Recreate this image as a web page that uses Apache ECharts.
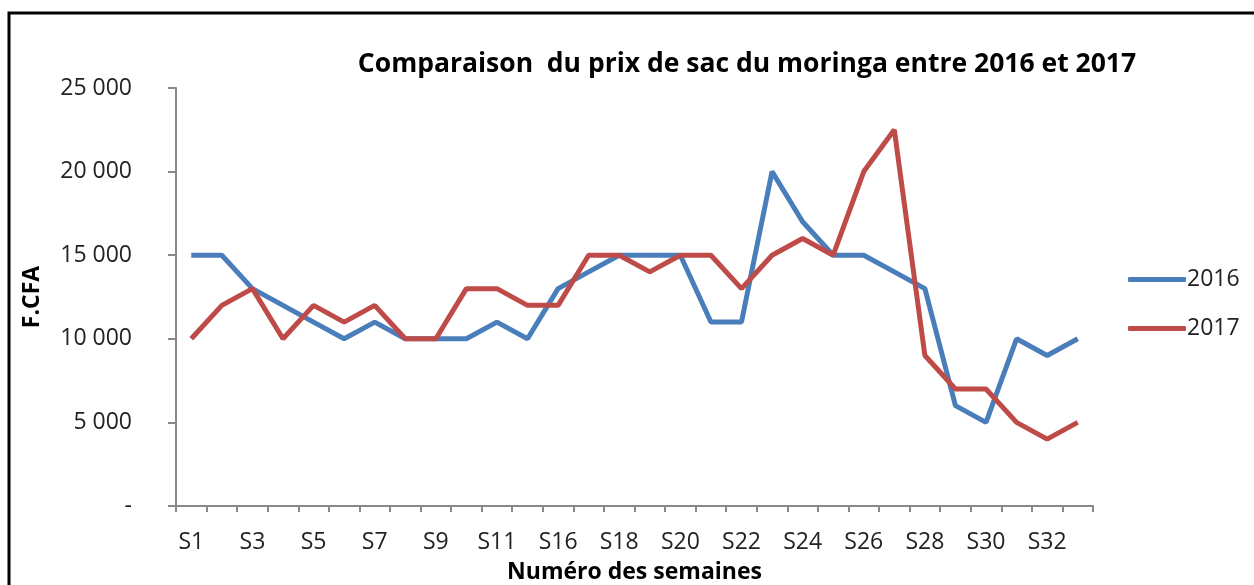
<!DOCTYPE html>
<html><head><meta charset="utf-8">
<script src="https://cdn.jsdelivr.net/npm/echarts@6/dist/echarts.min.js"></script>
<style>html,body{margin:0;padding:0;background:#fff}#c{width:1254px;height:585px}</style>
</head><body><div id="c"></div>
<script>
const categories = ['S1','S2','S3','S4','S5','S6','S7','S8','S9','S10','S11','S12','S16','S17','S18','S19','S20','S21','S22','S23','S24','S25','S26','S27','S28','S29','S30','S31','S32','S33'];
const values2016 = [15000,15000,13000,12000,11000,10000,11000,10000,10000,10000,11000,10000,13000,14000,15000,15000,15000,11000,11000,20000,17000,15000,15000,14000,13000,6000,5000,10000,9000,10000];
const values2017 = [10000,12000,13000,10000,12000,11000,12000,10000,10000,13000,13000,12000,12000,15000,15000,14000,15000,15000,13000,15000,16000,15000,20000,22500,9000,7000,7000,5000,4000,5000];
const seriesNames = ['2016','2017'];
const yTicks = {min:0, max:25000, interval:5000};

const FONT = "'Open Sans', 'Liberation Sans', sans-serif";
const chart = echarts.init(document.getElementById('c'));
function fmt(v){ if(v===0) return '-'; return String(v).replace(/\B(?=(\d{3})+(?!\d))/g,' '); }
chart.setOption({
  animation:false,
  backgroundColor:'#fff',
  graphic:[{type:'rect', shape:{x:9,y:13,width:1260,height:600}, style:{fill:'none', stroke:'#000', lineWidth:3}}],
  title:{text:'Comparaison  du prix de sac du moringa entre 2016 et 2017', left:742, textAlign:'center', top:46,
    textStyle:{fontFamily:FONT, fontSize:26.5, fontWeight:'bold', color:'#000'}},
  grid:{left:176, right:161, top:88, bottom:79, containLabel:false, outerBoundsMode:'none'},
  legend:{orient:'vertical', left:1123, top:263, itemGap:26, itemWidth:58, itemHeight:5, icon:'roundRect',
    textStyle:{fontFamily:FONT, fontSize:23, color:'#222', padding:[0,0,0,-4]}, data:seriesNames},
  xAxis:{type:'category', data:categories, boundaryGap:true,
    name:'Numéro des semaines', nameLocation:'middle', nameGap:55,
    nameTextStyle:{fontFamily:FONT, fontSize:23, fontWeight:'bold', color:'#000'},
    axisLine:{lineStyle:{color:'#888', width:2}},
    axisTick:{show:true, interval:0, length:6, lineStyle:{color:'#888', width:2}},
    axisLabel:{interval:1, fontFamily:FONT, fontSize:23, color:'#222', margin:25}},
  yAxis:{type:'value', min:yTicks.min, max:yTicks.max, interval:yTicks.interval,
    name:'F.CFA', nameLocation:'middle', nameGap:132, nameRotate:90,
    nameTextStyle:{fontFamily:FONT, fontSize:23, fontWeight:'bold', color:'#000'},
    axisLine:{show:true, lineStyle:{color:'#888', width:2}},
    axisTick:{show:true, length:8, lineStyle:{color:'#888', width:2}},
    splitLine:{show:false},
    axisLabel:{formatter:fmt, fontFamily:FONT, fontSize:23, color:'#222', margin:44}},
  series:[
    {name:seriesNames[0], type:'line', data:values2016, symbol:'none', color:'#4A7EBB', lineStyle:{width:5, color:'#4A7EBB'}},
    {name:seriesNames[1], type:'line', data:values2017, symbol:'none', color:'#BE4B48', lineStyle:{width:5, color:'#BE4B48'}}
  ]
});
</script></body></html>
